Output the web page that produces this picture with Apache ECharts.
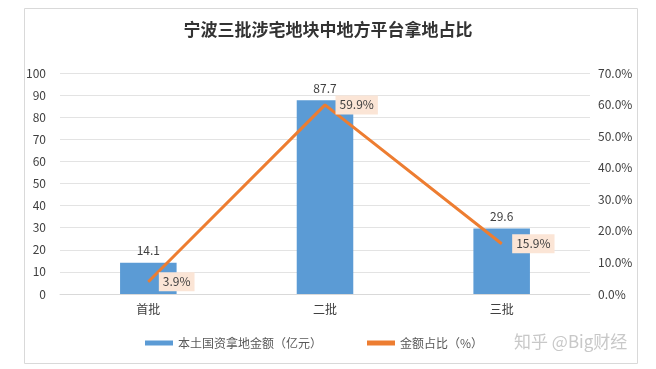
<!DOCTYPE html>
<html><head><meta charset="utf-8">
<script src="https://cdn.jsdelivr.net/npm/echarts@6/dist/echarts.min.js"></script>
<style>html,body{margin:0;padding:0;background:#fff}#c{width:656px;height:369px}</style>
</head><body><div id="c"></div>
<script>
const categories = ['首批', '二批', '三批'];
const amountValues = [14.1, 87.7, 29.6];
const shareValues = [3.9, 59.9, 15.9];
const leftTicks = [0, 100, 10];
const rightTicks = [0, 70, 10];

const chart = echarts.init(document.getElementById('c'), null, {renderer: 'canvas'});
const font = '"Noto Sans CJK SC", "Microsoft YaHei", sans-serif';
chart.setOption({
  animation: false,
  textStyle: {fontFamily: font},
  title: {
    text: '宁波三批涉宅地块中地方平台拿地占比',
    left: 'center', top: 16,
    textStyle: {fontSize: 17, fontWeight: 'bold', color: '#333', fontFamily: font}
  },
  graphic: [
    {type: 'rect', shape: {x: 24.5, y: 8.5, width: 613, height: 355}, style: {fill: 'none', stroke: '#d9d9d9', lineWidth: 1}, silent: true, z: -1},
    {type: 'text', left: 514, top: 333, style: {text: '知乎 @Big财经', fill: '#c8c8c8', font: '17px ' + font}, z: 10}
  ],
  legend: {
    bottom: 15, left: 140, itemGap: 45, itemWidth: 28, itemHeight: 5,
    textStyle: {fontSize: 12, color: '#595959', fontFamily: font},
    data: [
      {name: '本土国资拿地金额（亿元）', icon: 'rect'},
      {name: '金额占比（%）', icon: 'rect'}
    ]
  },
  grid: {left: 60, right: 66, top: 73, bottom: 75},
  xAxis: {
    type: 'category', data: categories,
    axisLine: {lineStyle: {color: '#d9d9d9'}},
    axisTick: {show: false},
    axisLabel: {color: '#404040', fontSize: 12, margin: 9}
  },
  yAxis: [
    {type: 'value', min: leftTicks[0], max: leftTicks[1], interval: leftTicks[2],
     axisLine: {show: false}, axisTick: {show: false},
     splitLine: {lineStyle: {color: '#e3e3e3'}},
     axisLabel: {color: '#404040', fontSize: 12, margin: 14}},
    {type: 'value', min: rightTicks[0], max: rightTicks[1], interval: rightTicks[2],
     axisLine: {show: false}, axisTick: {show: false}, splitLine: {show: false},
     axisLabel: {color: '#404040', fontSize: 12, margin: 8, formatter: v => v.toFixed(1) + '%'}}
  ],
  series: [
    {name: '本土国资拿地金额（亿元）', type: 'bar', data: amountValues, barWidth: '32%',
     itemStyle: {color: '#5B9BD5'},
     label: {show: true, position: 'top', color: '#404040', fontSize: 12, distance: 6}},
    {name: '金额占比（%）', type: 'line', yAxisIndex: 1, data: shareValues,
     symbol: 'circle', symbolSize: 1, showSymbol: true,
     lineStyle: {color: '#ED7D31', width: 3}, itemStyle: {color: '#ED7D31'},
     labelLayout: {hideOverlap: false},
     label: {show: true, position: 'right', distance: 10, offset: [0, 2], color: '#404040', fontSize: 12,
       backgroundColor: '#FBE5D6', padding: [4, 4, 3, 4], formatter: p => p.value.toFixed(1) + '%'}}
  ]
});
</script></body></html>
